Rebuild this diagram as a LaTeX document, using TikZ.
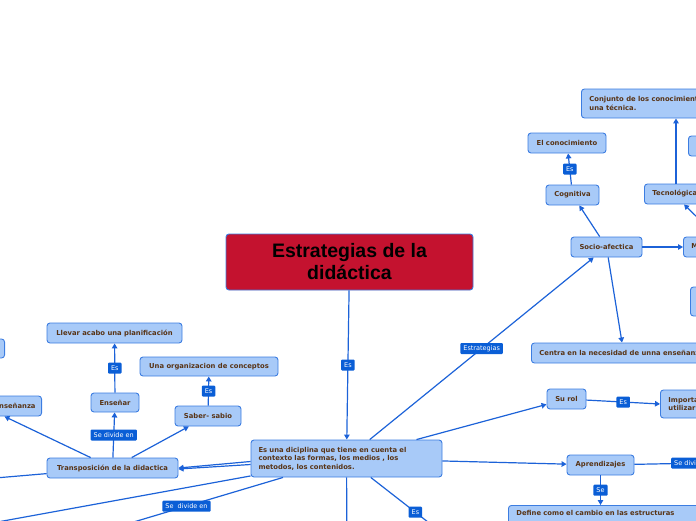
\documentclass[tikz,border=0pt]{standalone}
\usepackage{fontspec}
\setmainfont{DejaVu Sans}
\newfontfamily\titlefont{Liberation Sans}
\usetikzlibrary{arrows.meta,positioning}
\definecolor{mapline}{RGB}{28,98,216}
\definecolor{mapfill}{RGB}{168,202,248}
\definecolor{mapedge}{RGB}{60,125,225}
\definecolor{maptext}{RGB}{88,52,22}
\definecolor{maplabel}{RGB}{10,94,214}
\definecolor{maptitle}{RGB}{196,18,47}

\begin{document}
\begin{tikzpicture}[x=1pt, y=-1pt,
    box/.style={draw=mapedge, fill=mapfill, rounded corners=3pt, line width=0.9pt,
                minimum height=20pt, inner xsep=8pt, inner ysep=0pt, text=maptext,
                font=\fontsize{6.8}{8.5}\selectfont\bfseries},
    lbl/.style={fill=maplabel, text=white, rounded corners=1pt, inner xsep=3pt, inner ysep=0pt,
                minimum height=11pt, font=\fontsize{6.5}{7}\selectfont},
    ln/.style={mapline, line width=1.2pt},
    arr/.style={ln, -{Triangle[length=5pt,width=5.5pt]}}
]
\useasboundingbox (0,0) rectangle (696,520);
\clip (0,0) rectangle (696,520);

% main topic and its definition
\node[box, fill=maptitle, draw=mapedge, text=black, minimum width=247pt, minimum height=56pt,
      align=center, font=\titlefont\fontsize{19.5}{22}\selectfont\bfseries] (title) at (349.5,262)
      {Estrategias de la\\didáctica};
\node[box, minimum width=191pt, minimum height=37pt, text width=176pt, inner xsep=7.5pt, align=left]
      (central) at (346.5,458.5)
      {Es una diciplina que tiene en cuenta el\\contexto las formas, los medios , los\\metodos, los contenidos.};

% left branch
\node[box, minimum width=131pt] (transp) at (112.5,468) {Transposición de la didactica};
\node[box, minimum width=48pt, minimum height=19pt] (ensenar) at (115,402.5) {Enseñar};
\node[box, minimum width=135pt] (llevar) at (114.5,333) {Llevar acabo una planificación};
\node[box, minimum width=66pt] (saber) at (208,416) {Saber- sabio};
\node[box, minimum width=138pt, minimum height=19pt] (organiza) at (209,366.5) {Una organizacion de conceptos};
\node[box, anchor=east, text width=106pt, inner xsep=6pt, align=right] (ensenanza) at (42,406) {la enseñanza};
\node[box, anchor=east, minimum width=40pt, minimum height=19pt] (leftbox) at (5,348.5) {};

% right branch
\node[box, minimum width=71pt] (socio) at (606.5,247) {Socio-afectica};
\node[box, minimum width=53pt] (cognitiva) at (572.5,195) {Cognitiva};
\node[box, minimum width=78pt] (conoce) at (567,143) {El conocimiento};
\node[box, anchor=west, minimum height=29pt, align=left] (conjunto) at (581,103.5)
      {Conjunto de los conocimientos\\una técnica.};
\node[box, anchor=west] (tecno) at (644,194) {Tecnológica};
\node[box, anchor=west, minimum width=40pt] (rightbox) at (688,146) {};
\node[box, anchor=west] (metodo) at (683,247) {Metodológica};
\node[box, anchor=west, minimum width=40pt, minimum height=29pt] (rightbox2) at (690,301.5) {};
\node[box, anchor=west] (centra) at (531,353) {Centra en la necesidad de unna enseñanza};
\node[box, minimum width=39pt] (surol) at (566.5,399) {Su rol};
\node[box, anchor=west, minimum height=28pt, align=left] (importa) at (660,404) {Importante\\utilizar};
\node[box, minimum width=67pt] (aprende) at (600.5,465) {Aprendizajes};
\node[box, anchor=north west, inner ysep=5pt, text depth=14pt, minimum width=200pt, align=left,
      text width=184pt] (define) at (508,505)
      {Define como el cambio en las estructuras};

% loose ends leaving the page
\coordinate (offleft) at (-40,481);
\coordinate (offlow) at (-30,527);
\coordinate (offdiv) at (90,535);
\coordinate (offdown) at (347,560);
\coordinate (offes) at (460,547);
\coordinate (offright) at (754,462);

% connectors
\draw[arr] (title) -- (central) node[lbl, midway] {Es};
\draw[arr] (central) -- (socio) node[lbl, midway] {Estrategias};
\draw[arr] (central) -- (surol);
\draw[arr] (central) -- (aprende);
\draw[ln] (central) -- (offes) node[lbl, midway] {Es};
\draw[ln] (central) -- (offdown);
\draw[arr] ([yshift=-3pt]central.west) -- (transp.east);
\draw[arr] ([yshift=-6pt]central.west) -- ([yshift=-1pt]transp.east);
\draw[ln] (central) -- (offlow);
\draw[ln] (central) -- (offdiv) node[lbl, midway] {Se~ divide en};

\draw[ln] (transp) -- (offleft);
\draw[arr] (transp) -- (ensenanza);
\draw[arr] (transp) -- (ensenar) node[lbl, midway] {Se divide en};
\draw[arr] (transp) -- (saber);
\draw[arr] (ensenar) -- (llevar) node[lbl, midway] {Es};
\draw[arr] (saber) -- (organiza) node[lbl, midway] {Es};

\draw[arr] (socio) -- ([xshift=91pt]centra.north west);
\draw[arr] (socio) -- (cognitiva);
\draw[arr] (socio) -- (metodo);
\draw[arr] (cognitiva) -- (conoce) node[lbl, midway] {Es};
\draw[arr] ([xshift=32pt]tecno.north west) -- ([xshift=95pt]conjunto.south west);
\draw[arr] ([xshift=34pt]metodo.north west) -- ([xshift=40pt]tecno.south west);

\draw[arr] (surol) -- (importa.west) node[lbl, midway] {Es};
\draw[ln] (aprende) -- (offright) node[lbl, midway] {Se divide en};
\draw[arr] (aprende) -- (aprende |- define.north) node[lbl, midway] {Se};
\end{tikzpicture}
\end{document}
